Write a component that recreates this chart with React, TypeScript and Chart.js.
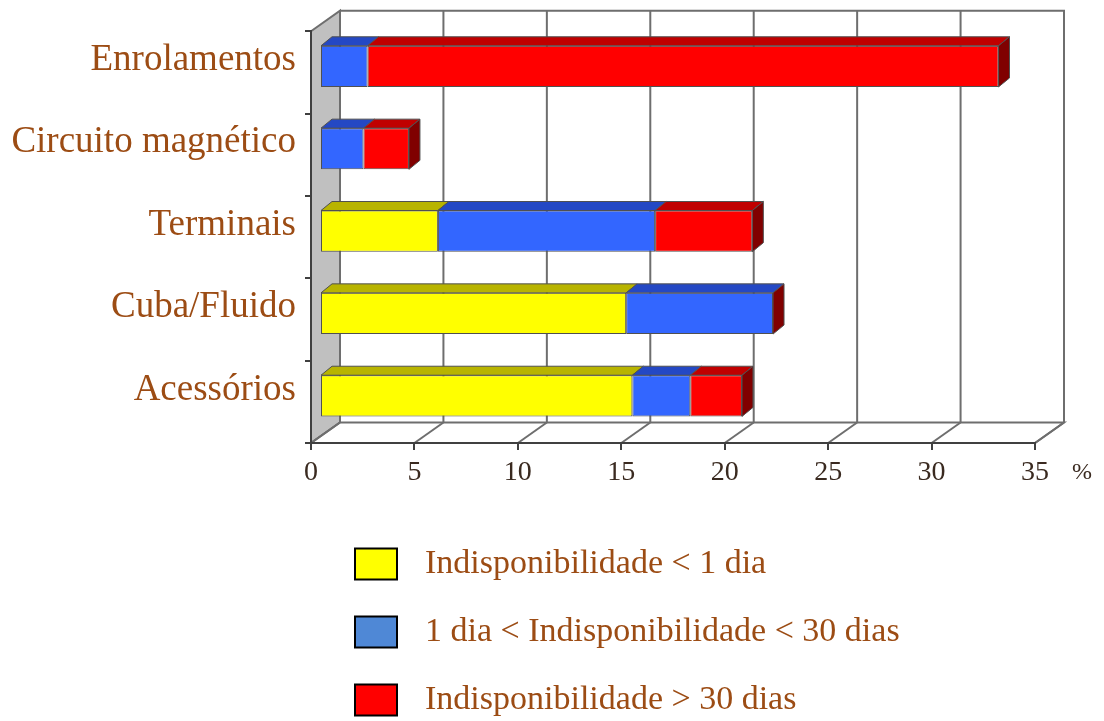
import React, { useEffect, useRef } from "react";
import { Chart, registerables } from "chart.js";

Chart.register(...registerables);

const categories = ["Enrolamentos", "Circuito magnético", "Terminais", "Cuba/Fluido", "Acessórios"];
const seriesLabels = [
  "Indisponibilidade < 1 dia",
  "1 dia < Indisponibilidade < 30 dias",
  "Indisponibilidade > 30 dias",
];
const lessThan1Day = [0, 0, 5.7, 14.8, 15.1];
const from1To30Days = [2.3, 2.1, 10.5, 7.1, 2.8];
const moreThan30Days = [30.5, 2.2, 4.7, 0, 2.5];
const xTickValues = [0, 5, 10, 15, 20, 25, 30, 35];
const unitLabel = "%";

const frontColors = ["#ffff00", "#3366ff", "#ff0000"];
const topColors = ["#b8b400", "#2448c4", "#c00000"];
const legendColors = ["#ffff00", "#4f88d6", "#ff0000"];
const sideColor = "#800000";
const labelColor = "#9c4c14";
const wallLine = "#6e6e6e";
const FONT = "'Liberation Serif', 'Times New Roman', serif";

// perspective offsets
const WALL_DX = 29;
const WALL_DY = -20.5;
const BAR_SHIFT_X = 9;
const BAR_SHIFT_Y = -6;
const BAR_DX = 11;
const BAR_DY = -9;

function poly(ctx: CanvasRenderingContext2D, pts: number[][], fill: string | null, stroke: string | null, lw = 1) {
  ctx.beginPath();
  ctx.moveTo(pts[0][0], pts[0][1]);
  for (let i = 1; i < pts.length; i++) ctx.lineTo(pts[i][0], pts[i][1]);
  ctx.closePath();
  if (fill) {
    ctx.fillStyle = fill;
    ctx.fill();
  }
  if (stroke) {
    ctx.strokeStyle = stroke;
    ctx.lineWidth = lw;
    ctx.stroke();
  }
}

function line(ctx: CanvasRenderingContext2D, x1: number, y1: number, x2: number, y2: number) {
  ctx.beginPath();
  ctx.moveTo(x1, y1);
  ctx.lineTo(x2, y2);
  ctx.stroke();
}

const threeDPlugin = {
  id: "threeD",
  beforeDraw(chart: any) {
    const { ctx, chartArea: a, scales } = chart;
    const x = scales.x;
    ctx.save();
    // left wall
    poly(
      ctx,
      [
        [a.left, a.top],
        [a.left + WALL_DX, a.top + WALL_DY],
        [a.left + WALL_DX, a.bottom + WALL_DY],
        [a.left, a.bottom],
      ],
      "#c0c0c0",
      wallLine,
      2
    );
    // floor
    poly(
      ctx,
      [
        [a.left, a.bottom],
        [a.right, a.bottom],
        [a.right + WALL_DX, a.bottom + WALL_DY],
        [a.left + WALL_DX, a.bottom + WALL_DY],
      ],
      "#ffffff",
      wallLine,
      2
    );
    // back wall outline (top and right)
    ctx.strokeStyle = wallLine;
    ctx.lineWidth = 2;
    ctx.beginPath();
    ctx.moveTo(a.left + WALL_DX, a.top + WALL_DY);
    ctx.lineTo(a.right + WALL_DX, a.top + WALL_DY);
    ctx.lineTo(a.right + WALL_DX, a.bottom + WALL_DY);
    ctx.stroke();
    // grid lines on the back wall and the floor
    x.ticks.forEach((t: any) => {
      const px = x.getPixelForValue(t.value);
      line(ctx, px + WALL_DX, a.top + WALL_DY, px + WALL_DX, a.bottom + WALL_DY);
      line(ctx, px, a.bottom, px + WALL_DX, a.bottom + WALL_DY);
    });
    ctx.restore();
  },
  beforeDatasetsDraw(chart: any) {
    chart.ctx.save();
    chart.ctx.translate(BAR_SHIFT_X, BAR_SHIFT_Y);
  },
  afterDatasetsDraw(chart: any) {
    const ctx = chart.ctx;
    const metas = chart.getSortedVisibleDatasetMetas();
    for (let i = 0; i < categories.length; i++) {
      let maxRight: number | null = null;
      let barTop = 0;
      let barBottom = 0;
      metas.forEach((meta: any) => {
        const el = meta.data[i];
        if (!el) return;
        const p = el.getProps(["x", "y", "base", "height"], true);
        const left = Math.min(p.base, p.x);
        const right = Math.max(p.base, p.x);
        if (right - left < 0.5) return;
        const top = p.y - p.height / 2;
        poly(
          ctx,
          [
            [left, top],
            [left + BAR_DX, top + BAR_DY],
            [right + BAR_DX, top + BAR_DY],
            [right, top],
          ],
          topColors[meta.index],
          "#505050",
          1
        );
        if (maxRight === null || right > maxRight) {
          maxRight = right;
          barTop = top;
          barBottom = top + p.height;
        }
      });
      if (maxRight !== null) {
        const r = maxRight as number;
        poly(
          ctx,
          [
            [r, barTop],
            [r + BAR_DX, barTop + BAR_DY],
            [r + BAR_DX, barBottom + BAR_DY],
            [r, barBottom],
          ],
          sideColor,
          "#505050",
          1
        );
      }
    }
    ctx.restore();
  },
  afterDraw(chart: any) {
    const { ctx, chartArea: a, scales } = chart;
    ctx.save();
    // unit label
    ctx.fillStyle = "#3a2a20";
    ctx.font = `24px ${FONT}`;
    ctx.textAlign = "left";
    ctx.textBaseline = "middle";
    ctx.fillText(unitLabel, scales.x.right + 37, scales.x.top + 30);
    // legend
    const boxX = 355;
    const boxW = 42;
    const boxH = 31;
    const firstY = 564;
    const gap = 68;
    chart.data.datasets.forEach((ds: any, i: number) => {
      const cy = firstY + i * gap;
      ctx.fillStyle = legendColors[i];
      ctx.fillRect(boxX, cy - boxH / 2, boxW, boxH);
      ctx.strokeStyle = "#000000";
      ctx.lineWidth = 2;
      ctx.strokeRect(boxX, cy - boxH / 2, boxW, boxH);
      ctx.fillStyle = labelColor;
      ctx.font = `34px ${FONT}`;
      ctx.textAlign = "left";
      ctx.textBaseline = "middle";
      ctx.fillText(ds.label, 425, cy);
    });
    ctx.restore();
  },
};

export default function App() {
  const ref = useRef<HTMLCanvasElement | null>(null);

  useEffect(() => {
    if (!ref.current) return;
    const chart = new Chart(ref.current, {
      type: "bar",
      data: {
        labels: categories,
        datasets: [
          { label: seriesLabels[0], data: lessThan1Day, backgroundColor: frontColors[0] },
          { label: seriesLabels[1], data: from1To30Days, backgroundColor: frontColors[1] },
          { label: seriesLabels[2], data: moreThan30Days, backgroundColor: frontColors[2] },
        ],
      },
      options: {
        indexAxis: "y",
        responsive: false,
        animation: false,
        devicePixelRatio: 1,
        layout: { padding: { top: 29, right: 69, left: 0, bottom: 0 } },
        datasets: {
          bar: {
            barPercentage: 0.5,
            categoryPercentage: 1.0,
            borderWidth: 1,
            borderColor: "#505050",
            borderSkipped: false,
            clip: false as any,
          },
        },
        plugins: {
          legend: { display: false },
          tooltip: { enabled: false },
          title: { display: false },
        },
        scales: {
          x: {
            type: "linear",
            stacked: true,
            min: 0,
            max: 35,
            afterBuildTicks: (scale: any) => {
              scale.ticks = xTickValues.map((v) => ({ value: v }));
            },
            afterFit: (scale: any) => {
              scale.height = 721 - 443;
            },
            grid: {
              drawOnChartArea: false,
              drawTicks: true,
              tickLength: 7,
              color: "#404040",
              lineWidth: 2,
            },
            border: { display: true, color: "#404040", width: 2 },
            ticks: {
              padding: 6,
              color: "#3a2a20",
              font: { family: FONT, size: 28 },
              maxRotation: 0,
              autoSkip: false,
            },
          },
          y: {
            type: "category",
            stacked: true,
            offset: true,
            afterFit: (scale: any) => {
              scale.width = 311;
            },
            grid: {
              offset: true,
              drawOnChartArea: false,
              drawTicks: true,
              tickLength: 6,
              color: "#404040",
              lineWidth: 2,
            },
            border: { display: true, color: "#404040", width: 2 },
            ticks: {
              padding: 9,
              labelOffset: -12,
              color: labelColor,
              font: { family: FONT, size: 37 },
              autoSkip: false,
            },
          },
        },
      } as any,
      plugins: [threeDPlugin],
    });
    return () => chart.destroy();
  }, []);

  return (
    <div style={{ position: "fixed", left: 0, top: 0, width: 1104, height: 721, background: "#ffffff" }}>
      <canvas ref={ref} width={1104} height={721} style={{ display: "block" }} />
    </div>
  );
}
